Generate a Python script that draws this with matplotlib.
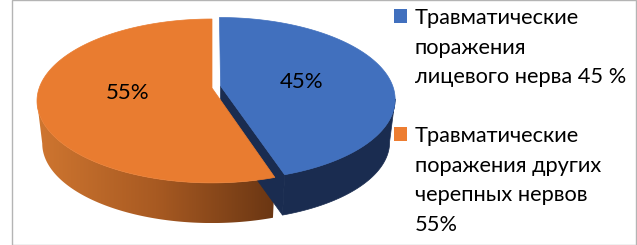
import numpy as np
import matplotlib
matplotlib.use('Agg')
import matplotlib.pyplot as plt
from matplotlib.patches import Polygon, Rectangle
from matplotlib.colors import LinearSegmentedColormap

shares = [45, 55]
share_labels = ['45%', '55%']
legend_lines = [
    ['Травматические', 'поражения', 'лицевого нерва 45 %'],
    ['Травматические', 'поражения других', 'черепных нервов', '55%'],
]

BLUE = '#4170BE'
ORANGE = '#E97C30'
NAVY = '#1A2C50'

# pie projection, in pixels
CX, CY = 212, 88
A, B, K = 172.8, 79.9, 0.158
DEPTH, SHRINK = 43, 0.03

plt.rcParams['font.family'] = ['Lato', 'DejaVu Sans']


def project(theta, r=1.0, du=0.0, dv=0.0, drop=0.0):
    u = r * np.sin(theta) + du
    v = r * np.cos(theta) + dv
    w = 1 + K * v
    s = 1 - SHRINK * drop
    return CX + s * A * u / w, CY + drop * DEPTH - s * B * v / w


def arc(t0, t1, du, dv, drop=0.0):
    t = np.linspace(t0, t1, 200)
    x, y = project(t, 1.0, du, dv, drop)
    return np.column_stack([x, y])


def apex(du, dv, drop=0.0):
    x, y = project(0.0, 0.0, du, dv, drop)
    return np.array([[x, y]])


fig = plt.figure(figsize=(6.37, 2.45), dpi=100)
ax = fig.add_axes([0, 0, 1, 1])
ax.axis('off')

angles = np.cumsum([0] + shares) / sum(shares) * 2 * np.pi
# the rim turns out of sight where the ellipse is widest
side = np.arccos(-K)

# blue slice, pulled out along its bisector
du, dv = 0.05, 0.025
t0, t1 = angles[0], angles[1]
inner = np.vstack([apex(du, dv), arc(t1, t1, du, dv)[:1], arc(t1, t1, du, dv, 1)[:1], apex(du, dv, 1)])
ax.add_patch(Polygon(inner, fc=NAVY, ec=NAVY, lw=0.5))
wall = np.vstack([arc(side, t1, du, dv), arc(t1, side, du, dv, 1)])
ax.add_patch(Polygon(wall, fc=NAVY, ec=NAVY, lw=0.5))
top = np.vstack([apex(du, dv), arc(t0, t1, du, dv)])
ax.add_patch(Polygon(top, fc=BLUE, ec=BLUE, lw=0.5))

# orange slice, wall has a left to right shade
t0, t1 = angles[1], angles[2]
wall = np.vstack([arc(t0, 2 * np.pi - side, 0, 0), arc(2 * np.pi - side, t0, 0, 0, 1)])
clip = Polygon(wall, fc='none', ec='none', transform=ax.transData)
ax.add_patch(clip)
shade = LinearSegmentedColormap.from_list('shade', ['#CF7630', '#A85A22', '#6A3613'])
img = ax.imshow(np.linspace(0, 1, 256).reshape(1, -1), cmap=shade, aspect='auto',
                extent=[wall[:, 0].min(), wall[:, 0].max(), wall[:, 1].max(), wall[:, 1].min()])
img.set_clip_path(clip)
top = np.vstack([apex(0, 0), arc(t0, t1, 0, 0)])
ax.add_patch(Polygon(top, fc=ORANGE, ec=ORANGE, lw=0.5))

ax.text(302, 82, share_labels[0], fontsize=16, color='#000000', ha='center', va='center')
ax.text(128, 93, share_labels[1], fontsize=16, color='#000000', ha='center', va='center')

# legend
for lines, color, y0 in zip(legend_lines, [BLUE, '#ED7D31'], [16, 134]):
    ax.add_patch(Rectangle((394, y0 - 7), 13, 14, fc=color, ec='none'))
    for i, line in enumerate(lines):
        ax.text(415, y0 + i * 29.5, line, fontsize=15.7, color='#000000', ha='left', va='center_baseline')

# frame round the picture
ax.add_patch(Rectangle((11.5, 0.5), 624, 244, fc='none', ec='#B4B4B4', lw=1))

ax.set_xlim(0, 637)
ax.set_ylim(245, 0)
fig.savefig('out.png', dpi=100)
